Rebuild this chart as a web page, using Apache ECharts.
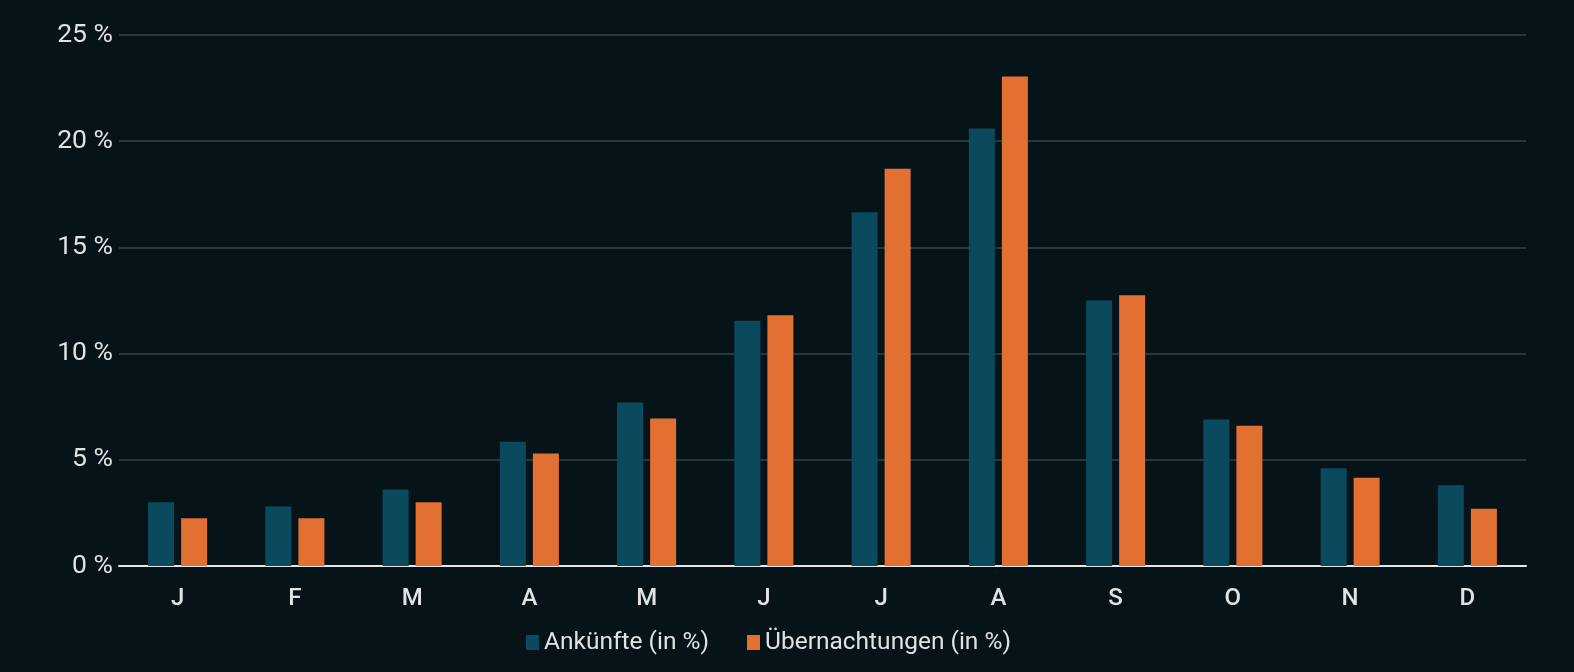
<!DOCTYPE html>
<html><head><meta charset="utf-8">
<script src="https://cdn.jsdelivr.net/npm/echarts@6/dist/echarts.min.js"></script>
<style>html,body{margin:0;padding:0;background:#06141a;}#c{width:1574px;height:672px;}</style>
</head><body><div id="c"></div>
<script>
const categories = ['J','F','M','A','M','J','J','A','S','O','N','D'];
const ankuenfte = [3.0, 2.8, 3.6, 5.85, 7.7, 11.55, 16.65, 20.6, 12.5, 6.9, 4.6, 3.8];
const uebernachtungen = [2.25, 2.25, 3.0, 5.3, 6.95, 11.8, 18.7, 23.05, 12.75, 6.6, 4.15, 2.7];
const yTicks = [0, 5, 10, 15, 20, 25];

const chart = echarts.init(document.getElementById('c'));
chart.setOption({
  backgroundColor: '#06141a',
  textStyle: {fontFamily: 'Roboto'},
  grid: {left: 119, right: 48, top: 35, bottom: 106},
  legend: {
    top: 625, left: 521, itemWidth: 13, itemHeight: 15, itemGap: 38,
    icon: 'rect',
    textStyle: {color: '#e2e2e2', fontSize: 24.5, fontFamily: 'Roboto'},
    data: ['Ankünfte (in %)', 'Übernachtungen (in %)']
  },
  xAxis: {
    type: 'category', data: categories,
    axisLine: {lineStyle: {color: '#e6e6e6', width: 2}},
    axisTick: {show: false},
    axisLabel: {color: '#e2e2e2', fontSize: 24, fontWeight: 500, margin: 21}
  },
  yAxis: {
    type: 'value', min: yTicks[0], max: yTicks[yTicks.length-1], interval: 5,
    axisLine: {show: false}, axisTick: {show: false},
    axisLabel: {color: '#e2e2e2', fontSize: 26.5, margin: 6, formatter: v => v + ' %'},
    splitLine: {lineStyle: {color: '#24383e', width: 2}}
  },
  series: [
    {name: 'Ankünfte (in %)', type: 'bar', data: ankuenfte, barWidth: 26, barGap: '27%',
     itemStyle: {color: '#0b4a5d'}},
    {name: 'Übernachtungen (in %)', type: 'bar', data: uebernachtungen, barWidth: 26,
     itemStyle: {color: '#e37033'}}
  ]
});
</script></body></html>
